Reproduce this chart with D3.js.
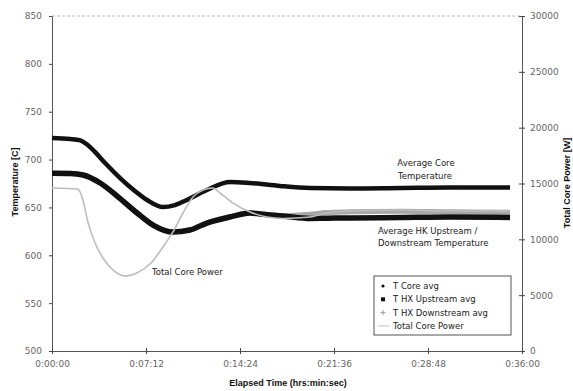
<!DOCTYPE html>
<html>
<head>
<meta charset="utf-8">
<script src="https://cdn.jsdelivr.net/npm/d3@7"></script>
<style>
  html, body { margin: 0; padding: 0; background: #fff; }
  svg { display: block; }
</style>
</head>
<body>
<svg id="chart" width="573" height="391"></svg>
<script>
// Elapsed time in seconds for each sampled point
const coreTime = [0, 83, 130, 160, 195, 244, 313, 381, 437, 510, 565, 620, 712, 818, 910, 1048, 1186, 1370, 1600, 1829, 2105];
// T Core avg [C]
const coreTemp = [722.5, 721.5, 720.0, 716.0, 708.5, 696.4, 680.7, 667.2, 657.8, 650.4, 652.5, 657.8, 668.2, 676.6, 675.5, 672.4, 670.3, 669.8, 670.3, 670.8, 670.8];

const hxTime = [0, 83, 142, 221, 299, 391, 464, 556, 634, 712, 818, 910, 956, 1062, 1186, 1264, 1370, 1600, 1829, 2105];
// T HX Upstream avg [C]
const hxUpTemp = [685.6, 685.4, 683.9, 675.5, 661.9, 644.2, 631.6, 624.3, 626.4, 633.7, 640.0, 644.2, 643.1, 641.0, 638.4, 638.7, 639.0, 639.5, 640.0, 639.5];
// T HX Downstream avg [C]
const hxDownTemp = [685.8, 685.6, 684.1, 675.8, 662.2, 644.5, 631.9, 624.6, 626.7, 634.0, 640.4, 644.4, 643.3, 641.6, 643.0, 644.7, 645.4, 646.0, 645.4, 644.9];

const powerTime = [0, 120, 142, 165, 198, 234, 281, 336, 390, 455, 510, 556, 602, 648, 694, 740, 772, 832, 910, 988, 1062, 1186, 1264, 1370, 1600, 1829, 2105];
// Total Core Power [W]
const powerW = [14600, 14500, 13520, 11550, 9670, 8330, 7250, 6720, 6990, 7880, 9310, 10660, 12360, 13790, 14420, 14600, 14150, 13250, 12450, 12000, 11870, 12000, 12360, 12540, 12630, 12540, 12540];

// Axis ticks
const timeTicks = [0, 432, 864, 1296, 1728, 2160];
const timeLabels = ["0:00:00", "0:07:12", "0:14:24", "0:21:36", "0:28:48", "0:36:00"];
const tempTicks = [500, 550, 600, 650, 700, 750, 800, 850];
const powerTicks = [0, 5000, 10000, 15000, 20000, 25000, 30000];

const legendItems = ["T Core avg", "T HX Upstream avg", "T HX Downstream avg", "Total Core Power"];

const svg = d3.select("#chart");
const L = 52, R = 522, T = 16, B = 351;

const x = d3.scaleLinear().domain([0, 2160]).range([L, R]);
const yT = d3.scaleLinear().domain([500, 850]).range([B, T]);
const yP = d3.scaleLinear().domain([0, 30000]).range([B, T]);

const tickFont = "'DejaVu Sans', sans-serif";
const titleFont = "'Liberation Sans', Arial, sans-serif";

// top border of plot area
svg.append("line")
  .attr("x1", L).attr("x2", R).attr("y1", T).attr("y2", T)
  .attr("stroke", "#bbb").attr("stroke-width", 1).attr("stroke-dasharray", "3,2");

function styleAxis(g) {
  g.select(".domain").attr("stroke", "#555");
  g.selectAll(".tick line").attr("stroke", "#444");
  g.selectAll(".tick text").attr("fill", "#666")
    .attr("font-family", tickFont).attr("font-size", 9);
}

// Left temperature axis
svg.append("g").attr("transform", `translate(${L},0)`)
  .call(d3.axisLeft(yT).tickValues(tempTicks).tickSizeInner(3).tickSizeOuter(0).tickPadding(7).tickFormat(d3.format("d")))
  .call(styleAxis);

// Right power axis with crossing ticks
svg.append("g").attr("transform", `translate(${R},0)`)
  .call(d3.axisRight(yP).tickValues(powerTicks).tickSizeInner(3).tickSizeOuter(0).tickPadding(5).tickFormat(d3.format("d")))
  .call(styleAxis);
svg.append("g").attr("transform", `translate(${R},0)`)
  .call(d3.axisLeft(yP).tickValues(powerTicks).tickSizeInner(3).tickSizeOuter(0).tickFormat(""))
  .call(g => { g.select(".domain").remove(); g.selectAll(".tick line").attr("stroke", "#444"); });

// Bottom time axis with crossing ticks
svg.append("g").attr("transform", `translate(0,${B})`)
  .call(d3.axisBottom(x).tickValues(timeTicks).tickSizeInner(3).tickSizeOuter(0).tickPadding(7)
    .tickFormat((d, i) => timeLabels[i]))
  .call(styleAxis);
svg.append("g").attr("transform", `translate(0,${B})`)
  .call(d3.axisTop(x).tickValues(timeTicks).tickSizeInner(3).tickSizeOuter(0).tickFormat(""))
  .call(g => { g.select(".domain").remove(); g.selectAll(".tick line").attr("stroke", "#444"); });

// Series
const lineT = (times, vals) => d3.line().curve(d3.curveMonotoneX)
  .x((d, i) => x(times[i])).y(d => yT(d))(vals);
const lineP = d3.line().curve(d3.curveMonotoneX)
  .x((d, i) => x(powerTime[i])).y(d => yP(d));

svg.append("path").attr("d", lineT(hxTime, hxDownTemp))
  .attr("fill", "none").attr("stroke", "#a8a8a8").attr("stroke-width", 5).attr("stroke-linejoin", "round");
svg.append("path").attr("d", lineT(coreTime, coreTemp))
  .attr("fill", "none").attr("stroke", "#111").attr("stroke-width", 4.5).attr("stroke-linejoin", "round");
svg.append("path").attr("d", lineT(hxTime, hxUpTemp))
  .attr("fill", "none").attr("stroke", "#111").attr("stroke-width", 5.5).attr("stroke-linejoin", "round");
svg.append("path").attr("d", lineP(powerW))
  .attr("fill", "none").attr("stroke", "#bdbdbd").attr("stroke-width", 1.6).attr("stroke-linejoin", "round");

// Annotations
const ann = svg.append("g").attr("font-family", tickFont).attr("font-size", 8.5).attr("fill", "#222");
ann.append("text").attr("x", 426).attr("y", 163).attr("text-anchor", "middle").attr("dominant-baseline", "central").text("Average Core");
ann.append("text").attr("x", 425).attr("y", 176).attr("text-anchor", "middle").attr("dominant-baseline", "central").text("Temperature");
ann.append("text").attr("x", 378).attr("y", 231).attr("dominant-baseline", "central").text("Average HK Upstream /");
ann.append("text").attr("x", 378).attr("y", 243).attr("dominant-baseline", "central").text("Downstream Temperature");
ann.append("text").attr("x", 152).attr("y", 272).attr("dominant-baseline", "central").text("Total Core Power");

// Legend
const lg = svg.append("g");
lg.append("rect").attr("x", 374).attr("y", 276).attr("width", 137).attr("height", 59)
  .attr("fill", "#fff").attr("stroke", "#555").attr("stroke-width", 1);
const rowY = i => 286 + i * 13.3;
lg.append("circle").attr("cx", 383).attr("cy", rowY(0)).attr("r", 1.6).attr("fill", "#111");
lg.append("rect").attr("x", 381).attr("y", rowY(1) - 2).attr("width", 4).attr("height", 4).attr("fill", "#111");
lg.append("path").attr("d", `M${380.5},${rowY(2)}h5M${383},${rowY(2) - 2.5}v5`).attr("stroke", "#999").attr("stroke-width", 1);
lg.append("line").attr("x1", 378).attr("x2", 389).attr("y1", rowY(3)).attr("y2", rowY(3)).attr("stroke", "#ccc").attr("stroke-width", 1.2);
lg.selectAll("text.item").data(legendItems).join("text").attr("class", "item")
  .attr("x", 393).attr("y", (d, i) => rowY(i)).attr("dominant-baseline", "central")
  .attr("font-family", tickFont).attr("font-size", 8.5).attr("fill", "#222").text(d => d);

// Axis titles
svg.append("text").attr("transform", "translate(15,182) rotate(-90)")
  .attr("text-anchor", "middle").attr("dominant-baseline", "central")
  .attr("font-family", titleFont).attr("font-weight", "bold").attr("font-size", 9).attr("fill", "#111")
  .text("Temperature [C]");
svg.append("text").attr("transform", "translate(567,183) rotate(-90)")
  .attr("text-anchor", "middle").attr("dominant-baseline", "central")
  .attr("font-family", titleFont).attr("font-weight", "bold").attr("font-size", 9).attr("fill", "#111")
  .text("Total Core Power [W]");
svg.append("text").attr("x", 288).attr("y", 383)
  .attr("text-anchor", "middle").attr("dominant-baseline", "central")
  .attr("font-family", titleFont).attr("font-weight", "bold").attr("font-size", 9).attr("fill", "#111")
  .text("Elapsed Time (hrs:min:sec)");
</script>
</body>
</html>
